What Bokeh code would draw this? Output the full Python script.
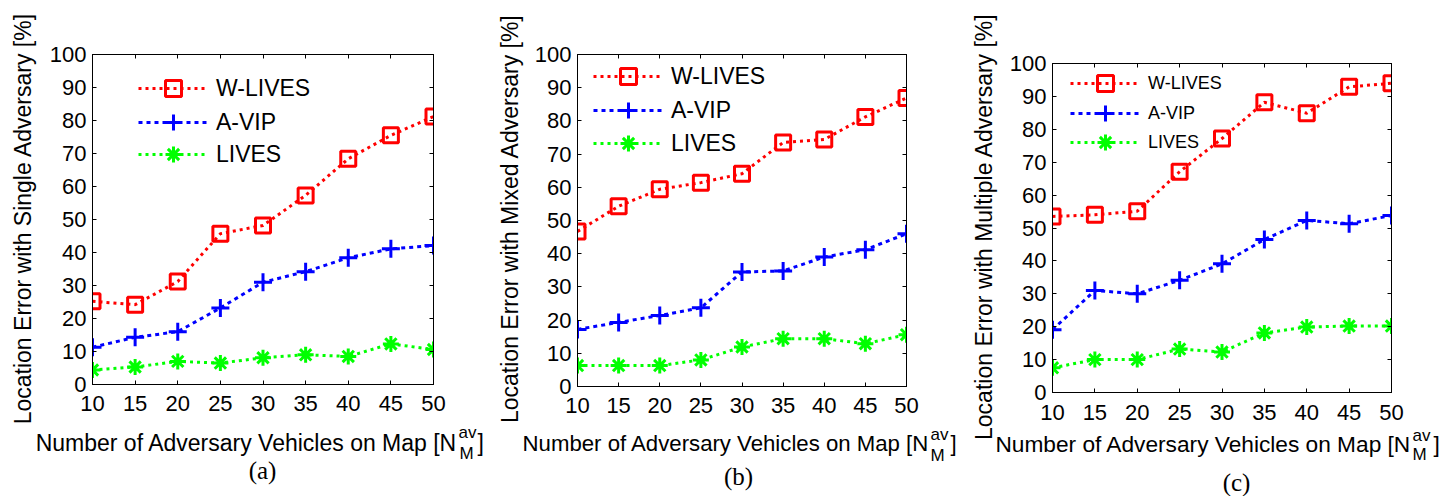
import numpy as np
from bokeh.plotting import figure
from bokeh.layouts import row, column
from bokeh.models import LinearAxis, FixedTicker, Legend, LegendItem, Range1d
from bokeh.core.properties import value
from bokeh.embed import file_html
from bokeh.resources import INLINE

# ---------------- data ----------------
x_vals = [10, 15, 20, 25, 30, 35, 40, 45, 50]
x_ticks = [10, 15, 20, 25, 30, 35, 40, 45, 50]
y_ticks = [0, 10, 20, 30, 40, 50, 60, 70, 80, 90, 100]

series_names = ["W-LIVES", "A-VIP", "LIVES"]

single_wlives = [25.2, 24.2, 31.2, 45.7, 48.2, 57.3, 68.4, 75.5, 81.2]
single_avip = [11.3, 14.3, 16.0, 23.2, 31.0, 34.2, 38.4, 41.1, 42.1]
single_lives = [4.4, 5.3, 7.0, 6.5, 8.1, 9.0, 8.5, 12.3, 10.6]

mixed_wlives = [46.7, 54.3, 59.4, 61.4, 64.1, 73.5, 74.4, 81.2, 86.9]
mixed_avip = [17.2, 19.3, 21.4, 23.7, 34.5, 34.8, 39.0, 41.2, 46.0]
mixed_lives = [6.3, 6.3, 6.3, 8.0, 11.9, 14.4, 14.4, 12.9, 15.6]

multi_wlives = [53.5, 54.0, 55.1, 67.1, 77.2, 88.2, 84.9, 92.9, 94.0]
multi_avip = [19.1, 31.0, 30.0, 34.1, 39.1, 46.5, 52.3, 51.3, 53.8]
multi_lives = [7.5, 10.0, 10.0, 13.2, 12.3, 18.1, 19.9, 20.2, 20.2]

y_label_texts = [
    "Location Error with Single Adversary [%]",
    "Location Error with Mixed Adversary [%]",
    "Location Error with Multiple Adversary [%]",
]
x_label_main = "Number of Adversary Vehicles on Map [N"
x_label_sup = "av"
x_label_sub = "M"
x_label_end = "]"
captions = ["(a)", "(b)", "(c)"]

# ---------------- styles / layout ----------------
FONT = "Liberation Sans"
SERIF = "Liberation Serif"
colors = ["#FF0000", "#0000FF", "#00FF00"]
markers = ["square", "cross", "asterisk"]
marker_sizes = [15, 18, 16]
dashes = ["3 4", "4 4", "3 4"]
TICK_FS = "22px"

PAGE_W, PAGE_H = 1456, 496
fig_x0 = [0, 480, 960]
fig_w = [480, 480, 496]

# per panel layout, in picture pixels (origin top-left)
# xl: (right end of main x-label text, centre y, font size)
panels = [
    dict(data=[single_wlives, single_avip, single_lives], ylab=y_label_texts[0], cap=captions[0],
         frame=(92, 433, 54, 384), tick_sd=11, leg_x=138, leg_rows=[88, 122, 154], leg_fs="23px",
         xl=(457, 442, "23px"), sup=(458, 432), sub=(459, 453), end=(477, 442),
         yl=(22, 218), capxy=(262, 470)),
    dict(data=[mixed_wlives, mixed_avip, mixed_lives], ylab=y_label_texts[1], cap=captions[1],
         frame=(577, 906, 54, 386), tick_sd=11, leg_x=593, leg_rows=[76, 110, 143], leg_fs="23px",
         xl=(929, 443, "22.2px"), sup=(930, 434), sub=(930, 455), end=(950, 443),
         yl=(509, 218), capxy=(738, 476)),
    dict(data=[multi_wlives, multi_avip, multi_lives], ylab=y_label_texts[2], cap=captions[2],
         frame=(1052, 1391, 63, 392), tick_sd=12, leg_x=1070, leg_rows=[83, 113, 142], leg_fs="18px",
         xl=(1411, 443, "22.7px"), sup=(1412, 435), sub=(1412, 454), end=(1433, 443),
         yl=(983, 226), capxy=(1236, 482)),
]

LEG_H = 40


def make_panel(i, cfg):
    ox = fig_x0[i]
    W = fig_w[i]
    fl, fr, ft, fb = cfg["frame"]
    p = figure(width=W, height=PAGE_H, x_range=Range1d(10, 50), y_range=Range1d(0, 100),
               output_backend="svg", toolbar_location=None,
               min_border_left=fl - ox, min_border_right=W - (fr - ox),
               min_border_top=ft, min_border_bottom=PAGE_H - fb,
               background_fill_color="white", border_fill_color="white",
               outline_line_color="black", outline_line_width=1)
    try:
        p.frame_align = False
    except Exception:
        pass
    p.grid.visible = False
    p.xaxis.ticker = FixedTicker(ticks=x_ticks)
    p.yaxis.ticker = FixedTicker(ticks=y_ticks)
    for ax in p.axis:
        ax.major_tick_in = 4
        ax.major_tick_out = 0
        ax.minor_tick_line_color = None
        ax.axis_line_color = "black"
        ax.major_tick_line_color = "black"
        ax.major_label_text_font = FONT
        ax.major_label_text_font_size = TICK_FS
        ax.major_label_text_color = "black"
    p.xaxis.major_label_standoff = cfg["tick_sd"]
    p.yaxis.major_label_standoff = 6

    top = LinearAxis(ticker=FixedTicker(ticks=x_ticks),
                     major_label_overrides={t: "" for t in x_ticks},
                     major_tick_in=4, major_tick_out=0, minor_tick_line_color=None,
                     major_label_standoff=0, axis_line_color="black")
    right = LinearAxis(ticker=FixedTicker(ticks=y_ticks),
                       major_label_overrides={t: "" for t in y_ticks},
                       major_tick_in=4, major_tick_out=0, minor_tick_line_color=None,
                       major_label_standoff=0, axis_line_color="black")
    p.add_layout(top, "above")
    p.add_layout(right, "right")

    for k, ys in enumerate(cfg["data"]):
        lr = p.line(x_vals, ys, line_color=colors[k], line_width=3, line_dash=dashes[k])
        sr = p.scatter(x_vals, ys, marker=markers[k], size=marker_sizes[k],
                       line_color=colors[k], fill_color=None, line_width=3)
        cy = cfg["leg_rows"][k]
        leg = Legend(items=[LegendItem(label=series_names[k], renderers=[lr, sr])],
                     location=(cfg["leg_x"] - fl, fb - (cy + LEG_H / 2)),
                     glyph_width=70, glyph_height=LEG_H, label_height=LEG_H,
                     padding=0, margin=0, label_standoff=8,
                     label_text_font=FONT, label_text_font_size=cfg["leg_fs"],
                     label_text_color="black",
                     border_line_color=None, background_fill_alpha=0)
        p.add_layout(leg)
    return p


figs = [make_panel(i, c) for i, c in enumerate(panels)]

# transparent overlay canvas (pixel coordinates) carrying the axis titles and captions
ov = figure(width=PAGE_W, height=PAGE_H, x_range=Range1d(0, PAGE_W), y_range=Range1d(0, PAGE_H),
            x_axis_type=None, y_axis_type=None, output_backend="svg", toolbar_location=None,
            min_border=0, min_border_left=0, min_border_right=0, min_border_top=0,
            min_border_bottom=0, outline_line_color=None,
            background_fill_color=None, border_fill_color=None)
ov.grid.visible = False


def txt(x, y, text, size, font=FONT, align="left", angle=0.0):
    ov.text(x=[x], y=[PAGE_H - y], text=[text], text_font=value(font),
            text_font_size=value(size), text_align=align, text_baseline="middle",
            text_color="black", angle=angle)


for cfg in panels:
    xx, xy, xfs = cfg["xl"]
    txt(xx, xy, x_label_main, xfs, align="right")
    txt(cfg["sup"][0], cfg["sup"][1], x_label_sup, "17px")
    txt(cfg["sub"][0], cfg["sub"][1], x_label_sub, "17px")
    txt(cfg["end"][0], cfg["end"][1], x_label_end, xfs)
    txt(cfg["yl"][0], cfg["yl"][1], cfg["ylab"], "23px", align="center", angle=np.pi / 2)
    txt(cfg["capxy"][0], cfg["capxy"][1], cfg["cap"], "25px", font=SERIF, align="center")

ov.margin = (-PAGE_H, 0, 0, 0)

layout = column(row(*figs, spacing=0), ov, spacing=0)
open("out.html", "w").write(file_html(layout, INLINE))
